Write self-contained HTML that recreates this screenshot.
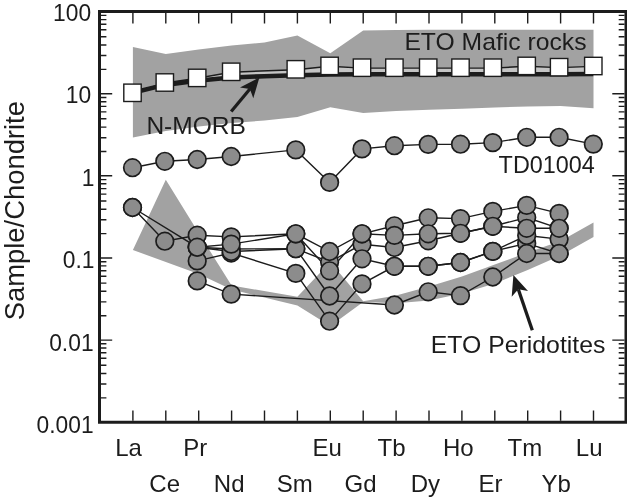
<!DOCTYPE html>
<html lang="en"><head><meta charset="utf-8"><title>REE pattern</title>
<style>html,body{margin:0;padding:0;background:#fff}svg{display:block;will-change:transform}</style>
</head><body>
<svg width="627" height="499" viewBox="0 0 627 499" font-family="Liberation Sans, sans-serif" fill="#1c1c1c" role="img" aria-label="Chondrite-normalised REE patterns">
<rect width="627" height="499" fill="#fff"/>
<polygon fill="#a2a2a2" points="132.9,47.0 165.8,54.0 198.7,49.5 231.6,45.5 264.5,42.5 297.4,35.5 330.3,53.3 363.2,30.6 396.1,30.0 429.0,29.8 461.9,29.8 494.8,29.8 527.7,29.8 560.6,29.8 593.5,29.8 593.5,108.3 560.6,106.0 527.7,106.5 494.8,107.5 461.9,108.8 429.0,109.8 396.1,111.0 363.2,113.0 330.3,107.3 297.4,117.0 264.5,120.5 231.6,123.0 198.7,126.5 165.8,131.0 132.9,137.5"/>
<polygon fill="#a2a2a2" points="132.9,250.0 165.8,179.8 198.7,233.0 231.6,285.5 297.4,296.8 330.3,262.0 363.2,301.2 396.1,295.5 429.0,286.5 461.9,276.5 494.8,264.5 527.7,252.5 560.6,241.0 593.5,222.5 593.5,237.0 560.6,255.5 527.7,270.0 494.8,283.5 461.9,293.5 429.0,300.5 396.1,303.2 363.2,302.0 330.3,326.0 297.4,305.5 231.6,289.5 198.7,274.0 165.8,262.0 132.9,250.0"/>
<polygon fill="#c4c4c4" points="132.5,93.2 164.8,82.9 197.2,78.3 231.2,72.2 295.8,69.7 329.6,66.3 362.0,68.1 394.4,68.1 428.2,68.1 460.5,68.1 492.8,68.1 526.7,66.3 559.1,67.6 593.3,66.4 593.3,74.0 559.1,74.2 526.7,74.2 492.8,74.2 460.5,74.2 428.2,74.2 394.4,74.2 362.0,74.3 329.6,74.6 295.8,75.2 231.2,77.6 197.2,80.7 164.8,84.9 132.5,92.8"/>
<polyline fill="none" stroke="#1c1c1c" stroke-width="1.4" stroke-linejoin="round" points="132.5,93.2 164.8,82.9 197.2,78.3 231.2,72.2 295.8,69.7 329.6,66.3 362.0,68.1 394.4,68.1 428.2,68.1 460.5,68.1 492.8,68.1 526.7,66.3 559.1,67.6 593.3,66.4" />
<polyline fill="none" stroke="#1c1c1c" stroke-width="4.5" stroke-linejoin="round" points="132.5,92.8 164.8,84.9 197.2,80.7 231.2,77.6 264.0,76.2 295.8,75.2 329.6,74.6 362.0,74.3 394.4,74.2 428.2,74.2 460.5,74.2 492.8,74.2 526.7,74.2 559.1,74.2 593.3,74.0" />
<rect x="123.8" y="84.1" width="17.4" height="17.4" fill="#fff" stroke="#1c1c1c" stroke-width="1.4"/>
<rect x="156.1" y="73.8" width="17.4" height="17.4" fill="#fff" stroke="#1c1c1c" stroke-width="1.4"/>
<rect x="188.5" y="69.2" width="17.4" height="17.4" fill="#fff" stroke="#1c1c1c" stroke-width="1.4"/>
<rect x="222.5" y="63.1" width="17.4" height="17.4" fill="#fff" stroke="#1c1c1c" stroke-width="1.4"/>
<rect x="287.1" y="60.6" width="17.4" height="17.4" fill="#fff" stroke="#1c1c1c" stroke-width="1.4"/>
<rect x="320.9" y="57.2" width="17.4" height="17.4" fill="#fff" stroke="#1c1c1c" stroke-width="1.4"/>
<rect x="353.3" y="59.0" width="17.4" height="17.4" fill="#fff" stroke="#1c1c1c" stroke-width="1.4"/>
<rect x="385.7" y="59.0" width="17.4" height="17.4" fill="#fff" stroke="#1c1c1c" stroke-width="1.4"/>
<rect x="419.5" y="59.0" width="17.4" height="17.4" fill="#fff" stroke="#1c1c1c" stroke-width="1.4"/>
<rect x="451.8" y="59.0" width="17.4" height="17.4" fill="#fff" stroke="#1c1c1c" stroke-width="1.4"/>
<rect x="484.1" y="59.0" width="17.4" height="17.4" fill="#fff" stroke="#1c1c1c" stroke-width="1.4"/>
<rect x="518.0" y="57.2" width="17.4" height="17.4" fill="#fff" stroke="#1c1c1c" stroke-width="1.4"/>
<rect x="550.4" y="58.5" width="17.4" height="17.4" fill="#fff" stroke="#1c1c1c" stroke-width="1.4"/>
<rect x="584.6" y="57.3" width="17.4" height="17.4" fill="#fff" stroke="#1c1c1c" stroke-width="1.4"/>
<polyline fill="none" stroke="#1c1c1c" stroke-width="1.4" points="197.2,247.2 231.2,249.0 295.8,248.7 329.6,262.0 362.0,244.3 394.4,247.5 428.2,240.8 460.5,233.3 492.8,226.3 526.7,217.5 559.1,228.3"/>
<polyline fill="none" stroke="#1c1c1c" stroke-width="1.4" points="197.2,260.9 231.2,253.0 295.8,273.4 329.6,321.2 362.0,283.9 394.4,266.3 428.2,266.3 460.5,262.5 492.8,251.4 526.7,243.4 559.1,253.5"/>
<polyline fill="none" stroke="#1c1c1c" stroke-width="1.4" points="197.2,247.2 231.2,251.5 295.8,248.7 329.6,296.0 362.0,258.8 394.4,266.3 428.2,266.3 460.5,262.5 492.8,251.4 526.7,235.5 559.1,239.1"/>
<polyline fill="none" stroke="#1c1c1c" stroke-width="1.4" points="197.2,280.9 231.2,294.1 394.4,305.0 428.2,291.8 460.5,295.6 492.8,277.0 526.7,253.5 559.1,253.5"/>
<polyline fill="none" stroke="#1c1c1c" stroke-width="1.4" points="132.5,207.5 164.8,241.2 197.2,235.2 231.2,236.9 295.8,233.8 329.6,251.5 362.0,233.8 394.4,225.8 428.2,217.8 460.5,218.6 492.8,211.4 526.7,205.4 559.1,213.4"/>
<polyline fill="none" stroke="#1c1c1c" stroke-width="1.4" points="132.5,207.5 197.2,247.2 231.2,244.1 295.8,233.8 329.6,270.8 362.0,233.8 394.4,235.4 428.2,233.8 460.5,233.3 492.8,226.3 526.7,228.3 559.1,228.3"/>
<polyline fill="none" stroke="#1c1c1c" stroke-width="1.4" points="132.5,167.7 164.8,161.3 197.2,159.5 231.2,156.5 295.8,149.9 329.6,182.4 362.0,148.9 394.4,145.7 428.2,144.4 460.5,144.2 492.8,142.6 526.7,137.3 559.1,137.3 593.3,144.1"/>
<circle cx="197.2" cy="247.2" r="8.8" fill="#8c8c8c" stroke="#1c1c1c" stroke-width="1.7"/>
<circle cx="231.2" cy="249.0" r="8.8" fill="#8c8c8c" stroke="#1c1c1c" stroke-width="1.7"/>
<circle cx="295.8" cy="248.7" r="8.8" fill="#8c8c8c" stroke="#1c1c1c" stroke-width="1.7"/>
<circle cx="329.6" cy="262.0" r="8.8" fill="#8c8c8c" stroke="#1c1c1c" stroke-width="1.7"/>
<circle cx="362.0" cy="244.3" r="8.8" fill="#8c8c8c" stroke="#1c1c1c" stroke-width="1.7"/>
<circle cx="394.4" cy="247.5" r="8.8" fill="#8c8c8c" stroke="#1c1c1c" stroke-width="1.7"/>
<circle cx="428.2" cy="240.8" r="8.8" fill="#8c8c8c" stroke="#1c1c1c" stroke-width="1.7"/>
<circle cx="460.5" cy="233.3" r="8.8" fill="#8c8c8c" stroke="#1c1c1c" stroke-width="1.7"/>
<circle cx="492.8" cy="226.3" r="8.8" fill="#8c8c8c" stroke="#1c1c1c" stroke-width="1.7"/>
<circle cx="526.7" cy="217.5" r="8.8" fill="#8c8c8c" stroke="#1c1c1c" stroke-width="1.7"/>
<circle cx="559.1" cy="228.3" r="8.8" fill="#8c8c8c" stroke="#1c1c1c" stroke-width="1.7"/>
<circle cx="197.2" cy="260.9" r="8.8" fill="#8c8c8c" stroke="#1c1c1c" stroke-width="1.7"/>
<circle cx="231.2" cy="253.0" r="8.8" fill="#8c8c8c" stroke="#1c1c1c" stroke-width="1.7"/>
<circle cx="295.8" cy="273.4" r="8.8" fill="#8c8c8c" stroke="#1c1c1c" stroke-width="1.7"/>
<circle cx="329.6" cy="321.2" r="8.8" fill="#8c8c8c" stroke="#1c1c1c" stroke-width="1.7"/>
<circle cx="362.0" cy="283.9" r="8.8" fill="#8c8c8c" stroke="#1c1c1c" stroke-width="1.7"/>
<circle cx="394.4" cy="266.3" r="8.8" fill="#8c8c8c" stroke="#1c1c1c" stroke-width="1.7"/>
<circle cx="428.2" cy="266.3" r="8.8" fill="#8c8c8c" stroke="#1c1c1c" stroke-width="1.7"/>
<circle cx="460.5" cy="262.5" r="8.8" fill="#8c8c8c" stroke="#1c1c1c" stroke-width="1.7"/>
<circle cx="492.8" cy="251.4" r="8.8" fill="#8c8c8c" stroke="#1c1c1c" stroke-width="1.7"/>
<circle cx="526.7" cy="243.4" r="8.8" fill="#8c8c8c" stroke="#1c1c1c" stroke-width="1.7"/>
<circle cx="559.1" cy="253.5" r="8.8" fill="#8c8c8c" stroke="#1c1c1c" stroke-width="1.7"/>
<circle cx="197.2" cy="247.2" r="8.8" fill="#8c8c8c" stroke="#1c1c1c" stroke-width="1.7"/>
<circle cx="231.2" cy="251.5" r="8.8" fill="#8c8c8c" stroke="#1c1c1c" stroke-width="1.7"/>
<circle cx="295.8" cy="248.7" r="8.8" fill="#8c8c8c" stroke="#1c1c1c" stroke-width="1.7"/>
<circle cx="329.6" cy="296.0" r="8.8" fill="#8c8c8c" stroke="#1c1c1c" stroke-width="1.7"/>
<circle cx="362.0" cy="258.8" r="8.8" fill="#8c8c8c" stroke="#1c1c1c" stroke-width="1.7"/>
<circle cx="394.4" cy="266.3" r="8.8" fill="#8c8c8c" stroke="#1c1c1c" stroke-width="1.7"/>
<circle cx="428.2" cy="266.3" r="8.8" fill="#8c8c8c" stroke="#1c1c1c" stroke-width="1.7"/>
<circle cx="460.5" cy="262.5" r="8.8" fill="#8c8c8c" stroke="#1c1c1c" stroke-width="1.7"/>
<circle cx="492.8" cy="251.4" r="8.8" fill="#8c8c8c" stroke="#1c1c1c" stroke-width="1.7"/>
<circle cx="526.7" cy="235.5" r="8.8" fill="#8c8c8c" stroke="#1c1c1c" stroke-width="1.7"/>
<circle cx="559.1" cy="239.1" r="8.8" fill="#8c8c8c" stroke="#1c1c1c" stroke-width="1.7"/>
<circle cx="197.2" cy="280.9" r="8.8" fill="#8c8c8c" stroke="#1c1c1c" stroke-width="1.7"/>
<circle cx="231.2" cy="294.1" r="8.8" fill="#8c8c8c" stroke="#1c1c1c" stroke-width="1.7"/>
<circle cx="394.4" cy="305.0" r="8.8" fill="#8c8c8c" stroke="#1c1c1c" stroke-width="1.7"/>
<circle cx="428.2" cy="291.8" r="8.8" fill="#8c8c8c" stroke="#1c1c1c" stroke-width="1.7"/>
<circle cx="460.5" cy="295.6" r="8.8" fill="#8c8c8c" stroke="#1c1c1c" stroke-width="1.7"/>
<circle cx="492.8" cy="277.0" r="8.8" fill="#8c8c8c" stroke="#1c1c1c" stroke-width="1.7"/>
<circle cx="526.7" cy="253.5" r="8.8" fill="#8c8c8c" stroke="#1c1c1c" stroke-width="1.7"/>
<circle cx="559.1" cy="253.5" r="8.8" fill="#8c8c8c" stroke="#1c1c1c" stroke-width="1.7"/>
<circle cx="132.5" cy="207.5" r="8.8" fill="#8c8c8c" stroke="#1c1c1c" stroke-width="1.7"/>
<circle cx="164.8" cy="241.2" r="8.8" fill="#8c8c8c" stroke="#1c1c1c" stroke-width="1.7"/>
<circle cx="197.2" cy="235.2" r="8.8" fill="#8c8c8c" stroke="#1c1c1c" stroke-width="1.7"/>
<circle cx="231.2" cy="236.9" r="8.8" fill="#8c8c8c" stroke="#1c1c1c" stroke-width="1.7"/>
<circle cx="295.8" cy="233.8" r="8.8" fill="#8c8c8c" stroke="#1c1c1c" stroke-width="1.7"/>
<circle cx="329.6" cy="251.5" r="8.8" fill="#8c8c8c" stroke="#1c1c1c" stroke-width="1.7"/>
<circle cx="362.0" cy="233.8" r="8.8" fill="#8c8c8c" stroke="#1c1c1c" stroke-width="1.7"/>
<circle cx="394.4" cy="225.8" r="8.8" fill="#8c8c8c" stroke="#1c1c1c" stroke-width="1.7"/>
<circle cx="428.2" cy="217.8" r="8.8" fill="#8c8c8c" stroke="#1c1c1c" stroke-width="1.7"/>
<circle cx="460.5" cy="218.6" r="8.8" fill="#8c8c8c" stroke="#1c1c1c" stroke-width="1.7"/>
<circle cx="492.8" cy="211.4" r="8.8" fill="#8c8c8c" stroke="#1c1c1c" stroke-width="1.7"/>
<circle cx="526.7" cy="205.4" r="8.8" fill="#8c8c8c" stroke="#1c1c1c" stroke-width="1.7"/>
<circle cx="559.1" cy="213.4" r="8.8" fill="#8c8c8c" stroke="#1c1c1c" stroke-width="1.7"/>
<circle cx="132.5" cy="207.5" r="8.8" fill="#8c8c8c" stroke="#1c1c1c" stroke-width="1.7"/>
<circle cx="197.2" cy="247.2" r="8.8" fill="#8c8c8c" stroke="#1c1c1c" stroke-width="1.7"/>
<circle cx="231.2" cy="244.1" r="8.8" fill="#8c8c8c" stroke="#1c1c1c" stroke-width="1.7"/>
<circle cx="295.8" cy="233.8" r="8.8" fill="#8c8c8c" stroke="#1c1c1c" stroke-width="1.7"/>
<circle cx="329.6" cy="270.8" r="8.8" fill="#8c8c8c" stroke="#1c1c1c" stroke-width="1.7"/>
<circle cx="362.0" cy="233.8" r="8.8" fill="#8c8c8c" stroke="#1c1c1c" stroke-width="1.7"/>
<circle cx="394.4" cy="235.4" r="8.8" fill="#8c8c8c" stroke="#1c1c1c" stroke-width="1.7"/>
<circle cx="428.2" cy="233.8" r="8.8" fill="#8c8c8c" stroke="#1c1c1c" stroke-width="1.7"/>
<circle cx="460.5" cy="233.3" r="8.8" fill="#8c8c8c" stroke="#1c1c1c" stroke-width="1.7"/>
<circle cx="492.8" cy="226.3" r="8.8" fill="#8c8c8c" stroke="#1c1c1c" stroke-width="1.7"/>
<circle cx="526.7" cy="228.3" r="8.8" fill="#8c8c8c" stroke="#1c1c1c" stroke-width="1.7"/>
<circle cx="559.1" cy="228.3" r="8.8" fill="#8c8c8c" stroke="#1c1c1c" stroke-width="1.7"/>
<circle cx="132.5" cy="167.7" r="8.8" fill="#8c8c8c" stroke="#1c1c1c" stroke-width="1.7"/>
<circle cx="164.8" cy="161.3" r="8.8" fill="#8c8c8c" stroke="#1c1c1c" stroke-width="1.7"/>
<circle cx="197.2" cy="159.5" r="8.8" fill="#8c8c8c" stroke="#1c1c1c" stroke-width="1.7"/>
<circle cx="231.2" cy="156.5" r="8.8" fill="#8c8c8c" stroke="#1c1c1c" stroke-width="1.7"/>
<circle cx="295.8" cy="149.9" r="8.8" fill="#8c8c8c" stroke="#1c1c1c" stroke-width="1.7"/>
<circle cx="329.6" cy="182.4" r="8.8" fill="#8c8c8c" stroke="#1c1c1c" stroke-width="1.7"/>
<circle cx="362.0" cy="148.9" r="8.8" fill="#8c8c8c" stroke="#1c1c1c" stroke-width="1.7"/>
<circle cx="394.4" cy="145.7" r="8.8" fill="#8c8c8c" stroke="#1c1c1c" stroke-width="1.7"/>
<circle cx="428.2" cy="144.4" r="8.8" fill="#8c8c8c" stroke="#1c1c1c" stroke-width="1.7"/>
<circle cx="460.5" cy="144.2" r="8.8" fill="#8c8c8c" stroke="#1c1c1c" stroke-width="1.7"/>
<circle cx="492.8" cy="142.6" r="8.8" fill="#8c8c8c" stroke="#1c1c1c" stroke-width="1.7"/>
<circle cx="526.7" cy="137.3" r="8.8" fill="#8c8c8c" stroke="#1c1c1c" stroke-width="1.7"/>
<circle cx="559.1" cy="137.3" r="8.8" fill="#8c8c8c" stroke="#1c1c1c" stroke-width="1.7"/>
<circle cx="593.3" cy="144.1" r="8.8" fill="#8c8c8c" stroke="#1c1c1c" stroke-width="1.7"/>
<line x1="231.2" y1="111.6" x2="249.9" y2="89.0" stroke="#1c1c1c" stroke-width="3.2"/><polygon fill="#1c1c1c" points="259.4,77.4 253.3,98.3 249.9,89.0 240.0,87.4"/>
<line x1="532.3" y1="330.3" x2="518.3" y2="289.2" stroke="#1c1c1c" stroke-width="3.3"/><polygon fill="#1c1c1c" points="513.4,275.0 528.0,291.1 518.3,289.2 511.7,296.7"/>
<g stroke="#1c1c1c" fill="none">
<path d="M99.5,10.1 V423.7 M98.0,422.2 H627 M626.0,422.2 V11.6 M627,11.6 H98.0" stroke-width="3"/>
<path d="M132.9,13.1 v10.3 M132.9,420.7 v-10.3 M165.8,13.1 v10.3 M165.8,420.7 v-10.3 M198.7,13.1 v10.3 M198.7,420.7 v-10.3 M231.6,13.1 v10.3 M231.6,420.7 v-10.3 M264.5,13.1 v10.3 M264.5,420.7 v-10.3 M297.4,13.1 v10.3 M297.4,420.7 v-10.3 M330.3,13.1 v10.3 M330.3,420.7 v-10.3 M363.2,13.1 v10.3 M363.2,420.7 v-10.3 M396.1,13.1 v10.3 M396.1,420.7 v-10.3 M429.0,13.1 v10.3 M429.0,420.7 v-10.3 M461.9,13.1 v10.3 M461.9,420.7 v-10.3 M494.8,13.1 v10.3 M494.8,420.7 v-10.3 M527.7,13.1 v10.3 M527.7,420.7 v-10.3 M560.6,13.1 v10.3 M560.6,420.7 v-10.3 M593.5,13.1 v10.3 M593.5,420.7 v-10.3 M101.0,397.9 h5.4 M624.5,397.9 h-5.8 M101.0,384.0 h5.4 M624.5,384.0 h-5.8 M101.0,373.5 h5.4 M624.5,373.5 h-5.8 M101.0,365.2 h5.4 M624.5,365.2 h-5.8 M101.0,358.3 h5.4 M624.5,358.3 h-5.8 M101.0,352.8 h5.4 M624.5,352.8 h-5.8 M101.0,348.0 h5.4 M624.5,348.0 h-5.8 M101.0,343.8 h5.4 M624.5,343.8 h-5.8 M101.0,340.1 h11.2 M624.5,340.1 h-12.2 M101.0,315.8 h5.4 M624.5,315.8 h-5.8 M101.0,301.9 h5.4 M624.5,301.9 h-5.8 M101.0,291.3 h5.4 M624.5,291.3 h-5.8 M101.0,283.1 h5.4 M624.5,283.1 h-5.8 M101.0,276.2 h5.4 M624.5,276.2 h-5.8 M101.0,270.7 h5.4 M624.5,270.7 h-5.8 M101.0,265.9 h5.4 M624.5,265.9 h-5.8 M101.0,261.7 h5.4 M624.5,261.7 h-5.8 M101.0,258.0 h11.2 M624.5,258.0 h-12.2 M101.0,233.6 h5.4 M624.5,233.6 h-5.8 M101.0,219.8 h5.4 M624.5,219.8 h-5.8 M101.0,209.2 h5.4 M624.5,209.2 h-5.8 M101.0,201.0 h5.4 M624.5,201.0 h-5.8 M101.0,194.1 h5.4 M624.5,194.1 h-5.8 M101.0,188.6 h5.4 M624.5,188.6 h-5.8 M101.0,183.8 h5.4 M624.5,183.8 h-5.8 M101.0,179.6 h5.4 M624.5,179.6 h-5.8 M101.0,175.8 h11.2 M624.5,175.8 h-12.2 M101.0,151.5 h5.4 M624.5,151.5 h-5.8 M101.0,137.7 h5.4 M624.5,137.7 h-5.8 M101.0,127.1 h5.4 M624.5,127.1 h-5.8 M101.0,118.8 h5.4 M624.5,118.8 h-5.8 M101.0,111.9 h5.4 M624.5,111.9 h-5.8 M101.0,106.4 h5.4 M624.5,106.4 h-5.8 M101.0,101.7 h5.4 M624.5,101.7 h-5.8 M101.0,97.5 h5.4 M624.5,97.5 h-5.8 M101.0,93.7 h11.2 M624.5,93.7 h-12.2 M101.0,69.4 h5.4 M624.5,69.4 h-5.8 M101.0,55.5 h5.4 M624.5,55.5 h-5.8 M101.0,45.0 h5.4 M624.5,45.0 h-5.8 M101.0,36.7 h5.4 M624.5,36.7 h-5.8 M101.0,29.8 h5.4 M624.5,29.8 h-5.8 M101.0,24.3 h5.4 M624.5,24.3 h-5.8 M101.0,19.6 h5.4 M624.5,19.6 h-5.8 M101.0,15.4 h5.4 M624.5,15.4 h-5.8" stroke-width="1.4"/>
</g>
<text x="53.1" y="20.7" font-size="24" text-anchor="start" textLength="38.0" lengthAdjust="spacingAndGlyphs" >100</text>
<text x="65.7" y="103.2" font-size="24" text-anchor="start" textLength="25.4" lengthAdjust="spacingAndGlyphs" >10</text>
<text x="81.8" y="185.5" font-size="24" text-anchor="start" textLength="12.7" lengthAdjust="spacingAndGlyphs" >1</text>
<text x="62.8" y="267.8" font-size="24" text-anchor="start" textLength="31.7" lengthAdjust="spacingAndGlyphs" >0.1</text>
<text x="49.2" y="351.0" font-size="24" text-anchor="start" textLength="44.4" lengthAdjust="spacingAndGlyphs" >0.01</text>
<text x="36.6" y="433.0" font-size="24" text-anchor="start" textLength="57.0" lengthAdjust="spacingAndGlyphs" >0.001</text>
<text x="128.6" y="456.3" font-size="24" text-anchor="middle" >La</text>
<text x="164.7" y="491.6" font-size="24" text-anchor="middle" >Ce</text>
<text x="195.2" y="456.3" font-size="24" text-anchor="middle" >Pr</text>
<text x="229.2" y="491.6" font-size="24" text-anchor="middle" >Nd</text>
<text x="294.8" y="491.6" font-size="24" text-anchor="middle" >Sm</text>
<text x="327.2" y="456.3" font-size="24" text-anchor="middle" >Eu</text>
<text x="360.5" y="491.6" font-size="24" text-anchor="middle" >Gd</text>
<text x="391.6" y="456.3" font-size="24" text-anchor="middle" >Tb</text>
<text x="425.3" y="491.6" font-size="24" text-anchor="middle" >Dy</text>
<text x="458.3" y="456.3" font-size="24" text-anchor="middle" >Ho</text>
<text x="490.6" y="491.6" font-size="24" text-anchor="middle" >Er</text>
<text x="524.8" y="456.3" font-size="24" text-anchor="middle" >Tm</text>
<text x="556.2" y="491.6" font-size="24" text-anchor="middle" >Yb</text>
<text x="589.2" y="456.3" font-size="24" text-anchor="middle" >Lu</text>
<text x="404.4" y="50.3" font-size="24" text-anchor="start" textLength="182.1" lengthAdjust="spacingAndGlyphs" >ETO Mafic rocks</text>
<text x="146.4" y="134" font-size="24" text-anchor="start" textLength="99.5" lengthAdjust="spacingAndGlyphs" >N-MORB</text>
<text x="498.6" y="173.2" font-size="24" text-anchor="start" textLength="96.2" lengthAdjust="spacingAndGlyphs" >TD01004</text>
<text x="430.8" y="353.3" font-size="24" text-anchor="start" textLength="174.6" lengthAdjust="spacingAndGlyphs" >ETO Peridotites</text>
<text font-size="27" text-anchor="middle" textLength="219.2" lengthAdjust="spacingAndGlyphs" transform="translate(24,210.7) rotate(-90)">Sample/Chondrite</text>
</svg>
</body></html>
